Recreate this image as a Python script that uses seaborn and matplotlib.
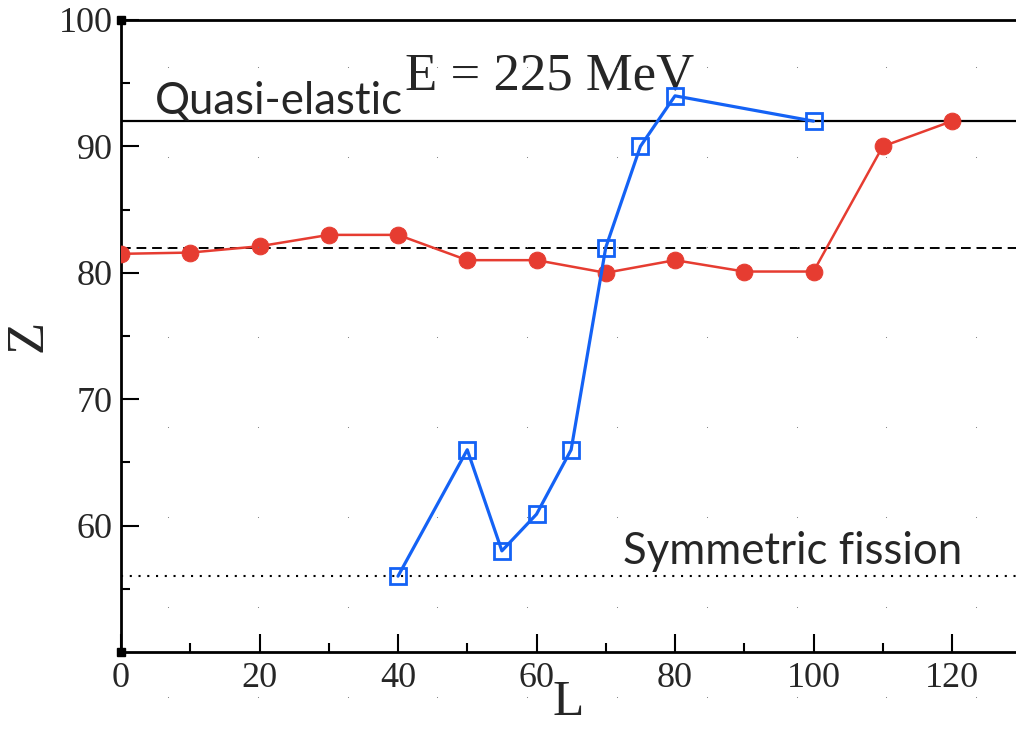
import numpy as np
import pandas as pd
import matplotlib
matplotlib.use("Agg")
import matplotlib.pyplot as plt
import seaborn as sns

# Angular momentum L and charge Z of the fragments
L_red = [0, 10, 20, 30, 40, 50, 60, 70, 80, 90, 100, 110, 120]
Z_red = [81.5, 81.6, 82.1, 83.0, 83.0, 81.0, 81.0, 80.0, 81.0, 80.1, 80.1, 90.0, 92.0]

L_blue = [40, 50, 55, 60, 65, 70, 75, 80, 100]
Z_blue = [56.0, 66.0, 58.0, 60.9, 66.0, 82.0, 90.0, 94.0, 92.0]

Z_quasi_elastic = 92
Z_reference = 82
Z_symmetric = 56

x_ticks = [0, 20, 40, 60, 80, 100, 120]
y_ticks = [60, 70, 80, 90, 100]

red = "#e63c31"
blue = "#1462f5"

sns.set_style("ticks")
plt.rcParams["font.family"] = ["Liberation Serif", "DejaVu Serif"]

fig = plt.figure(figsize=(10.16, 7.33), dpi=100)
ax = fig.add_axes([121 / 1016, 1 - 652 / 733, 1 - 121 / 1016, (652 - 20) / 733])

df_red = pd.DataFrame({"L": L_red, "Z": Z_red})
df_blue = pd.DataFrame({"L": L_blue, "Z": Z_blue})

# Reference levels
ax.axhline(Z_quasi_elastic, color="black", lw=1.6, zorder=1)
ax.axhline(Z_reference, color="black", lw=1.4, ls=(0, (5, 3)), zorder=1)
ax.axhline(Z_symmetric, color="black", lw=1.5, ls=(0, (1, 3.2)), zorder=1)

sns.lineplot(data=df_red, x="L", y="Z", ax=ax, color=red, lw=1.8,
             marker="o", markersize=12, markeredgecolor=red, markerfacecolor=red,
             sort=False, zorder=3)
sns.lineplot(data=df_blue, x="L", y="Z", ax=ax, color=blue, lw=2.3,
             marker="s", markersize=11, markeredgecolor=blue, markerfacecolor="none",
             markeredgewidth=2.0, sort=False, zorder=4)

ax.set_xlim(0, 129.24)
ax.set_ylim(50, 100)
ax.set_xticks(x_ticks)
ax.set_yticks(y_ticks)
ax.set_xticks(np.arange(10, 130, 20), minor=True)
ax.set_yticks(np.arange(55, 100, 10), minor=True)
ax.tick_params(which="major", direction="in", length=13, width=1.5,
               labelsize=26, pad=6, color="black")
ax.tick_params(which="minor", direction="in", length=6.5, width=1.5, color="black")
ax.tick_params(axis="x", pad=7)

for side in ["left", "bottom", "top"]:
    ax.spines[side].set_linewidth(2.0)
    ax.spines[side].set_color("black")
ax.spines["right"].set_visible(False)

ax.set_xlabel("L", fontsize=37, labelpad=-11)
ax.set_ylabel("Z", fontsize=38)
ax.yaxis.set_label_coords(-0.077, 0.5)

# Corner markers of the frame
y0, y1 = ax.get_ylim()
ax.plot([0, 0], [y0, y1], ls="none", marker="s", markersize=6,
        color="black", clip_on=False, zorder=5)

sans = ["Lato", "DejaVu Sans"]
ax.text(4.9, 92.6, "Quasi-elastic", fontsize=31.5, family=sans, ha="left", va="baseline")
ax.text(72.5, 57.0, "Symmetric fission", fontsize=31.5, family=sans, ha="left", va="baseline")
ax.text(41.0, 94.5, "E = 225 MeV", fontsize=38, ha="left", va="baseline")

# Faint dotted texture over the page
gx, gy = np.meshgrid(np.arange(168, 1016, 89.8), np.arange(67, 733, 90))
tex = fig.add_axes([0, 0, 1, 1], zorder=10)
tex.set_xlim(0, 1016)
tex.set_ylim(733, 0)
tex.axis("off")
tex.patch.set_alpha(0)
tex.scatter(gx.ravel(), gy.ravel(), s=0.6, color="#777777", linewidths=0)

fig.savefig("out.png", dpi=100)
